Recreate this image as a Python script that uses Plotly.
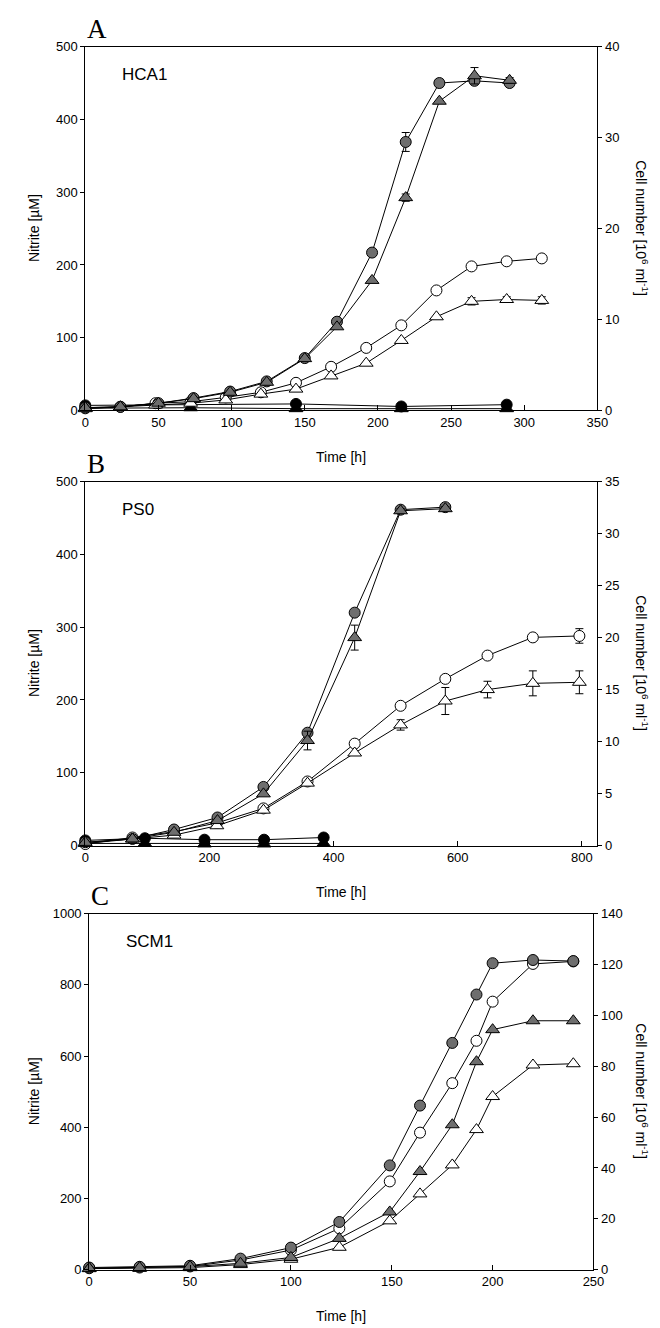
import plotly.graph_objects as go

# ---------------- DATA ----------------
# Panel A (HCA1)
A_t_gray = [0, 24, 50, 74, 99, 124, 150, 172, 196, 219, 242, 266, 290]
A_nitrite_gray = [4, 5, 10, 17, 26, 40, 72, 122, 217, 369, 450, 453, 450]
A_nitrite_gray_err = [0, 0, 0, 0, 0, 0, 0, 0, 4, 13, 5, 5, 4]
A_cells_gray = [0.3, 0.4, 0.8, 1.3, 2.0, 3.1, 5.7, 9.2, 14.3, 23.4, 34.0, 36.8, 36.3]
A_cells_gray_err = [0, 0, 0, 0, 0, 0, 0, 0, 0, 0.4, 0, 0.9, 0.3]
A_t_white = [0, 24, 48, 72, 96, 120, 144, 168, 192, 216, 240, 264, 288, 312]
A_nitrite_white = [3, 5, 10, 12, 18, 25, 38, 60, 86, 117, 165, 198, 205, 209]
A_cells_white = [0.2, 0.4, 0.6, 0.8, 1.16, 1.8, 2.35, 3.8, 5.2, 7.7, 10.3, 12.0, 12.2, 12.1]
A_cells_white_err = [0, 0, 0, 0, 0, 0, 0, 0, 0, 0, 0, 0.4, 0.3, 0.4]
A_t_ctrl_c = [0, 144, 216, 288]
A_nitrite_ctrl = [7, 9, 5.5, 8]
A_t_ctrl_t = [0, 72, 144, 216, 288]
A_cells_ctrl = [0.25, 0.3, 0.2, 0.2, 0.2]

# Panel B (PS0)
B_t_gray = [0, 76, 143, 213, 287, 358, 434, 508, 580]
B_nitrite_gray = [4.5, 9, 22, 38.5, 80.5, 155, 320, 461.5, 465]
B_cells_gray = [0.3, 0.63, 1.27, 2.4, 4.97, 10.1, 20.0, 32.2, 32.4]
B_cells_gray_err = [0, 0, 0, 0, 0, 0.9, 1.2, 0.2, 0.2]
B_t_white = [0, 76, 143, 212, 287, 358, 434, 508, 580, 648, 721, 796]
B_nitrite_white = [2, 11, 19, 31, 51, 88, 140, 192, 229, 261, 286, 288]
B_nitrite_white_err = [0, 0, 0, 0, 0, 0, 0, 0, 0, 4, 4, 10]
B_cells_white = [0.2, 0.63, 1.0, 1.9, 3.4, 6.0, 8.9, 11.6, 13.9, 15.0, 15.6, 15.7]
B_cells_white_err = [0, 0, 0, 0, 0, 0, 0, 0.5, 1.3, 0.8, 1.2, 1.1]
B_t_ctrl = [0, 96, 192, 288, 384]
B_nitrite_ctrl = [7, 10, 8, 8, 11]
B_cells_ctrl = [0.2, 0.2, 0.15, 0.15, 0.2]

# Panel C (SCM1)
C_t = [0, 25, 50, 75, 100, 124, 149, 164, 180, 192, 200, 220, 240]
C_nitrite_gray = [6, 8, 11, 31, 62, 134, 293, 461, 637, 773, 861, 870, 867]
C_nitrite_white = [4, 6, 9, 27, 55, 116, 248, 385, 524, 643, 753, 859, 866]
C_cells_gray = [0.5, 0.8, 1.2, 2.5, 4.8, 12.3, 22.7, 38.6, 57, 81.8, 94.4, 97.9, 97.9]
C_cells_white = [0.4, 0.5, 0.8, 2.0, 4.1, 8.8, 19.2, 29.8, 41.2, 55.1, 68.1, 80.5, 81.0]

panel_letters = ["A", "B", "C"]
strain_names = ["HCA1", "PS0", "SCM1"]

# ---------------- STYLE ----------------
GRAY = "#6e6e6e"
FONT = "Liberation Sans, Arial, sans-serif"
W, H = 660, 1328

fig = go.Figure()


def add(x, y, xa, ya, symbol, color, err=None, size=11):
    fig.add_trace(go.Scatter(
        x=x, y=y, xaxis=xa, yaxis=ya, mode="lines+markers",
        line=dict(color="black", width=1),
        marker=dict(symbol=symbol, size=size, color=color,
                    line=dict(color="black", width=1)),
        error_y=(dict(type="data", array=err, visible=True, color="black",
                      thickness=1, width=4) if err is not None else None),
        cliponaxis=False, showlegend=False, hoverinfo="x+y"))


# Panel A: x / y (nitrite), y2 (cells)
add(A_t_ctrl_t, A_cells_ctrl, "x", "y2", "triangle-up", "black", size=12)
add(A_t_ctrl_c, A_nitrite_ctrl, "x", "y", "circle", "black")
add(A_t_white, A_cells_white, "x", "y2", "triangle-up", "white", A_cells_white_err, size=12)
add(A_t_white, A_nitrite_white, "x", "y", "circle", "white")
add(A_t_gray, A_cells_gray, "x", "y2", "triangle-up", GRAY, A_cells_gray_err, size=12)
add(A_t_gray, A_nitrite_gray, "x", "y", "circle", GRAY, A_nitrite_gray_err)

# Panel B: x2 / y3 (nitrite), y4 (cells)
add(B_t_ctrl, B_cells_ctrl, "x2", "y4", "triangle-up", "black", size=12)
add(B_t_ctrl, B_nitrite_ctrl, "x2", "y3", "circle", "black")
add(B_t_white, B_cells_white, "x2", "y4", "triangle-up", "white", B_cells_white_err, size=12)
add(B_t_white, B_nitrite_white, "x2", "y3", "circle", "white", B_nitrite_white_err)
add(B_t_gray, B_cells_gray, "x2", "y4", "triangle-up", GRAY, B_cells_gray_err, size=12)
add(B_t_gray, B_nitrite_gray, "x2", "y3", "circle", GRAY)

# Panel C: x3 / y5 (nitrite), y6 (cells)
add(C_t, C_cells_white, "x3", "y6", "triangle-up", "white", size=12)
add(C_t, C_cells_gray, "x3", "y6", "triangle-up", GRAY, size=12)
add(C_t, C_nitrite_white, "x3", "y5", "circle", "white")
add(C_t, C_nitrite_gray, "x3", "y5", "circle", GRAY)

# Panel geometry (pixels)
panels = [
    dict(x0=75, x1=599, top=32, bot=400, xr=[0, 350], xd=50, yl=[0, 500], yld=100, yr=[0, 40], yrd=10),
    dict(x0=75, x1=599, top=472, bot=840, xr=[0, 825], xd=200, yl=[0, 500], yld=100, yr=[0, 35], yrd=5),
    dict(x0=79, x1=595, top=909, bot=1269, xr=[0, 250], xd=50, yl=[0, 1000], yld=200, yr=[0, 140], yrd=20),
]

tickfont = dict(family=FONT, size=13, color="black")
layout = dict(width=W, height=H, margin=dict(l=0, r=0, t=0, b=0),
              paper_bgcolor="white", plot_bgcolor="white")
annotations = []
time_label_y = [447, 887, 1316]
for i, p in enumerate(panels):
    xd = [p["x0"] / W, p["x1"] / W]
    yd = [1 - p["bot"] / H, 1 - p["top"] / H]
    xn = "xaxis" if i == 0 else f"xaxis{i + 1}"
    yl_n = f"yaxis{2 * i + 1}" if i > 0 else "yaxis"
    yr_n = f"yaxis{2 * i + 2}"
    xref = "x" if i == 0 else f"x{i + 1}"
    ylref = "y" if i == 0 else f"y{2 * i + 1}"
    layout[xn] = dict(domain=xd, range=p["xr"], dtick=p["xd"], tick0=0, anchor=ylref,
                      showline=True, linecolor="black", linewidth=1, mirror=True,
                      ticks="inside", ticklen=5, tickcolor="black", showgrid=False,
                      zeroline=False, tickfont=tickfont)
    layout[yl_n] = dict(domain=yd, range=p["yl"], dtick=p["yld"], tick0=0, anchor=xref,
                        showline=True, linecolor="black", linewidth=1,
                        ticks="outside", ticklen=4, tickcolor="black", showgrid=False,
                        zeroline=False, tickfont=tickfont)
    layout[yr_n] = dict(domain=yd, range=p["yr"], dtick=p["yrd"], tick0=0, anchor=xref,
                        overlaying=ylref, side="right",
                        showline=True, linecolor="black", linewidth=1,
                        ticks="outside", ticklen=4, tickcolor="black", showgrid=False,
                        zeroline=False, tickfont=tickfont)
    cy = (p["top"] + p["bot"]) / 2
    annotations.append(dict(text=panel_letters[i], x=p["x0"] / W, y=1 - (p["top"] - 1) / H,
                            xref="paper", yref="paper", xanchor="left", yanchor="bottom",
                            showarrow=False, font=dict(family="Liberation Serif, Times New Roman, serif",
                                                       size=27, color="black")))
    annotations.append(dict(text=strain_names[i], x=(p["x0"] + 36) / W, y=1 - (p["top"] + 28) / H,
                            xref="paper", yref="paper", xanchor="left", yanchor="middle",
                            showarrow=False, font=dict(family=FONT, size=17, color="black")))
    annotations.append(dict(text="Nitrite [µM]", x=22 / W, y=1 - cy / H, xref="paper", yref="paper",
                            textangle=-90, showarrow=False, xanchor="center", yanchor="middle",
                            font=dict(family=FONT, size=14, color="black")))
    annotations.append(dict(text="Cell number [10<sup>6</sup> ml<sup>-1</sup>]", x=645 / W, y=1 - cy / H,
                            xref="paper", yref="paper", textangle=90, showarrow=False,
                            xanchor="center", yanchor="middle",
                            font=dict(family=FONT, size=14, color="black")))
    annotations.append(dict(text="Time [h]", x=(p["x0"] + p["x1"]) / 2 / W, y=1 - time_label_y[i] / H,
                            xref="paper", yref="paper", showarrow=False, xanchor="center",
                            yanchor="middle", font=dict(family=FONT, size=14, color="black")))

layout["annotations"] = annotations
fig.update_layout(**layout)
fig.write_html("out.html")
